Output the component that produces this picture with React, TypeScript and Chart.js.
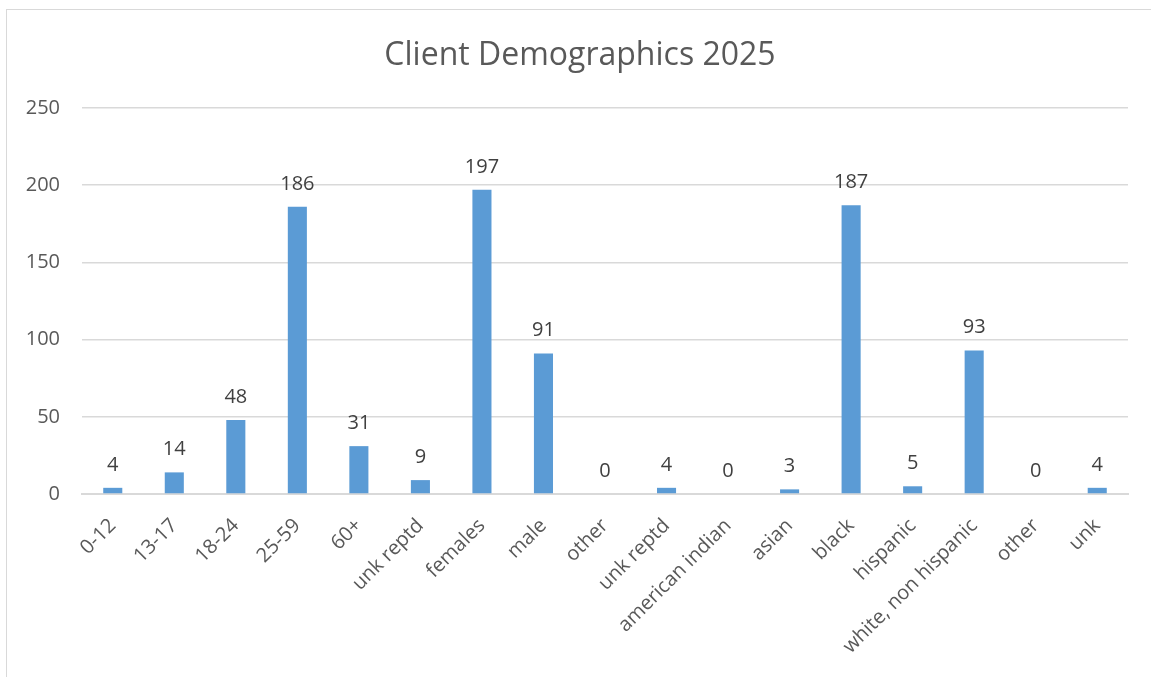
import React, { useEffect, useRef } from "react";
import { Chart, registerables } from "chart.js";

Chart.register(...registerables);

const categories = [
  "0-12", "13-17", "18-24", "25-59", "60+", "unk reptd",
  "females", "male", "other", "unk reptd",
  "american indian", "asian", "black", "hispanic", "white, non hispanic", "other", "unk",
];
const values = [4, 14, 48, 186, 31, 9, 197, 91, 0, 4, 0, 3, 187, 5, 93, 0, 4];
const yTicks = [0, 50, 100, 150, 200, 250];
const titleText = "Client Demographics 2025";

const FONT = "'Open Sans', Lato, sans-serif";

const dataLabelPlugin = {
  id: "dataLabels",
  afterDatasetsDraw(chart: any) {
    const ctx = chart.ctx;
    const meta = chart.getDatasetMeta(0);
    ctx.save();
    ctx.font = `20px ${FONT}`;
    ctx.fillStyle = "#404040";
    ctx.textAlign = "center";
    ctx.textBaseline = "alphabetic";
    meta.data.forEach((bar: any, i: number) => {
      ctx.fillText(String(values[i]), bar.x, bar.y - 17);
    });
    ctx.restore();
  },
};

const titlePlugin = {
  id: "centeredTitle",
  afterDraw(chart: any) {
    const ctx = chart.ctx;
    ctx.save();
    ctx.font = `32px ${FONT}`;
    ctx.fillStyle = "#595959";
    ctx.textAlign = "center";
    ctx.textBaseline = "alphabetic";
    ctx.fillText(titleText, 580, 65);
    ctx.restore();
  },
};

export default function App() {
  const ref = useRef<HTMLCanvasElement>(null);
  useEffect(() => {
    if (!ref.current) return;
    const chart = new Chart(ref.current, {
      type: "bar",
      data: {
        labels: categories,
        datasets: [
          {
            data: values,
            backgroundColor: "#5B9BD5",
            categoryPercentage: 1,
            barPercentage: 0.31,
          },
        ],
      },
      options: {
        animation: false,
        responsive: false,
        maintainAspectRatio: false,
        layout: { padding: { top: 108, left: 0, right: 23, bottom: 0 } },
        plugins: {
          legend: { display: false },
          tooltip: { enabled: false },
          title: { display: false },
        },
        scales: {
          x: {
            grid: { display: false, drawTicks: false },
            border: { display: true, color: "#d9d9d9", width: 2 },
            ticks: {
              color: "#595959",
              font: { family: FONT, size: 20 },
              maxRotation: 45,
              minRotation: 45,
              autoSkip: false,
              padding: 20,
            },
            afterFit: (scale: any) => {
              scale.height = 183;
            },
          },
          y: {
            min: 0,
            max: 250,
            afterBuildTicks: (scale: any) => {
              scale.ticks = yTicks.map((v) => ({ value: v }));
            },
            grid: { color: "#d9d9d9", lineWidth: 1.5, drawTicks: false },
            border: { display: false },
            ticks: {
              color: "#595959",
              font: { family: FONT, size: 20 },
              padding: 22,
            },
            afterFit: (scale: any) => {
              scale.width = 82;
            },
          },
        },
      },
      plugins: [dataLabelPlugin, titlePlugin],
    });
    return () => chart.destroy();
  }, []);
  return (
    <div style={{ position: "fixed", left: 0, top: 0, width: 1151, height: 677, overflow: "hidden", background: "#fff" }}>
      <div
        style={{
          position: "absolute",
          left: 6,
          top: 9,
          width: 1200,
          height: 720,
          border: "1.5px solid #d9d9d9",
        }}
      />
      <canvas ref={ref} width={1151} height={677} style={{ position: "absolute", left: 0, top: 0 }} />
    </div>
  );
}
